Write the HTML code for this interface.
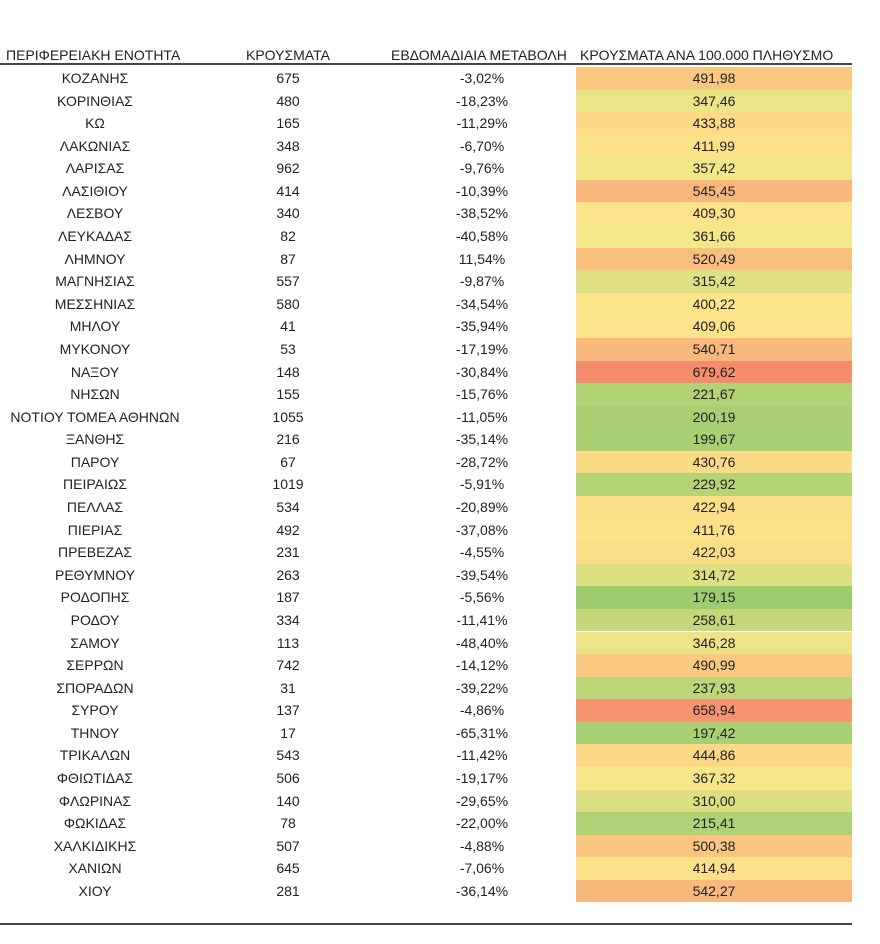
<!DOCTYPE html>
<html><head><meta charset="utf-8">
<style>
body{margin:0;width:880px;height:944px;background:#fff;font-family:"Liberation Sans",sans-serif;color:#222;position:relative;overflow:hidden}
.h{position:absolute;top:47px;font-size:14px;white-space:nowrap}
.line{position:absolute;left:0;width:852px;height:2px;background:#444}
.r{position:absolute;left:0;width:880px;height:22.58px;font-size:14px;line-height:22.58px}
.r span{position:absolute;top:0;text-align:center;white-space:nowrap}
.c{position:absolute;left:576px;width:276px;height:100%}
</style></head><body>
<div class="h" style="left:6px">ΠΕΡΙΦΕΡΕΙΑΚΗ ΕΝΟΤΗΤΑ</div>
<div class="h" style="left:246px">ΚΡΟΥΣΜΑΤΑ</div>
<div class="h" style="left:391px">ΕΒΔΟΜΑΔΙΑΙΑ ΜΕΤΑΒΟΛΗ</div>
<div class="h" style="left:580px">ΚΡΟΥΣΜΑΤΑ ΑΝΑ 100.000 ΠΛΗΘΥΣΜΟ</div>
<div class="line" style="top:63px"></div>
<div class="line" style="top:923px;height:1.5px"></div>
<div id="t"></div>
<script>
var d=[["ΚΟΖΑΝΗΣ",675,"-3,02%",491.98],["ΚΟΡΙΝΘΙΑΣ",480,"-18,23%",347.46],["ΚΩ",165,"-11,29%",433.88],["ΛΑΚΩΝΙΑΣ",348,"-6,70%",411.99],["ΛΑΡΙΣΑΣ",962,"-9,76%",357.42],["ΛΑΣΙΘΙΟΥ",414,"-10,39%",545.45],["ΛΕΣΒΟΥ",340,"-38,52%",409.30],["ΛΕΥΚΑΔΑΣ",82,"-40,58%",361.66],["ΛΗΜΝΟΥ",87,"11,54%",520.49],["ΜΑΓΝΗΣΙΑΣ",557,"-9,87%",315.42],["ΜΕΣΣΗΝΙΑΣ",580,"-34,54%",400.22],["ΜΗΛΟΥ",41,"-35,94%",409.06],["ΜΥΚΟΝΟΥ",53,"-17,19%",540.71],["ΝΑΞΟΥ",148,"-30,84%",679.62],["ΝΗΣΩΝ",155,"-15,76%",221.67],["ΝΟΤΙΟΥ ΤΟΜΕΑ ΑΘΗΝΩΝ",1055,"-11,05%",200.19],["ΞΑΝΘΗΣ",216,"-35,14%",199.67],["ΠΑΡΟΥ",67,"-28,72%",430.76],["ΠΕΙΡΑΙΩΣ",1019,"-5,91%",229.92],["ΠΕΛΛΑΣ",534,"-20,89%",422.94],["ΠΙΕΡΙΑΣ",492,"-37,08%",411.76],["ΠΡΕΒΕΖΑΣ",231,"-4,55%",422.03],["ΡΕΘΥΜΝΟΥ",263,"-39,54%",314.72],["ΡΟΔΟΠΗΣ",187,"-5,56%",179.15],["ΡΟΔΟΥ",334,"-11,41%",258.61],["ΣΑΜΟΥ",113,"-48,40%",346.28],["ΣΕΡΡΩΝ",742,"-14,12%",490.99],["ΣΠΟΡΑΔΩΝ",31,"-39,22%",237.93],["ΣΥΡΟΥ",137,"-4,86%",658.94],["ΤΗΝΟΥ",17,"-65,31%",197.42],["ΤΡΙΚΑΛΩΝ",543,"-11,42%",444.86],["ΦΘΙΩΤΙΔΑΣ",506,"-19,17%",367.32],["ΦΛΩΡΙΝΑΣ",140,"-29,65%",310.00],["ΦΩΚΙΔΑΣ",78,"-22,00%",215.41],["ΧΑΛΚΙΔΙΚΗΣ",507,"-4,88%",500.38],["ΧΑΝΙΩΝ",645,"-7,06%",414.94],["ΧΙΟΥ",281,"-36,14%",542.27]];
var G=[160,204,112],Y=[253,234,140],R=[246,140,110],mn=179.15,md=385,mx=679.62;
function col(v){var a,b,t;if(v<md){a=G;b=Y;t=(v-mn)/(md-mn)}else{a=Y;b=R;t=(v-md)/(mx-md)}
return "rgb("+a.map(function(x,i){return Math.round(x+(b[i]-x)*t)}).join(",")+")"}
var h="";d.forEach(function(r,i){var y=67+i*22.58;
h+='<div class="r" style="top:'+y+'px"><div class="c" style="background:'+col(r[3])+'"></div>'+
'<span style="left:0;width:190px">'+r[0]+'</span><span style="left:238px;width:100px">'+r[1]+'</span>'+
'<span style="left:440px;width:84px">'+r[2]+'</span><span style="left:576px;width:276px">'+r[3].toFixed(2).replace(".",",")+'</span></div>'});
document.getElementById("t").innerHTML=h;
</script>
</body></html>
